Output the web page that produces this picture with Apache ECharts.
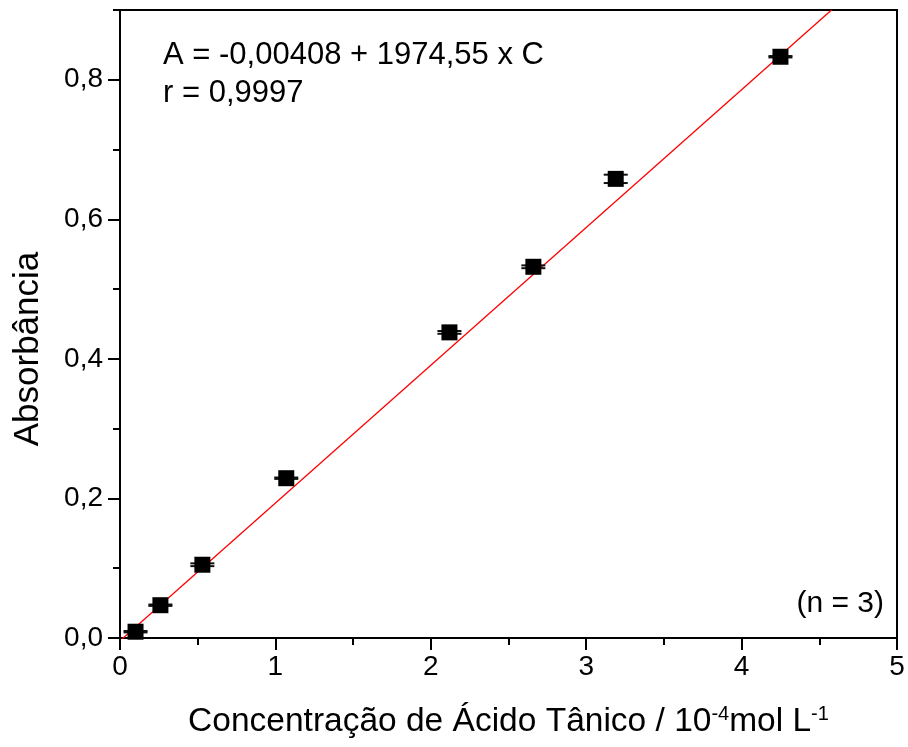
<!DOCTYPE html>
<html>
<head>
<meta charset="utf-8">
<script src="https://cdn.jsdelivr.net/npm/echarts@6/dist/echarts.min.js"></script>
<style>
  html, body { margin: 0; padding: 0; background: #fff; }
  #chart { width: 908px; height: 747px; }
</style>
</head>
<body>
<div id="chart"></div>
<script>
// Tannic acid calibration: concentration (10^-4 mol/L) vs absorbance
const concentration = [0.10, 0.26, 0.53, 1.07, 2.12, 2.66, 3.19, 4.25];
const absorbance = [0.009, 0.047, 0.105, 0.229, 0.438, 0.532, 0.658, 0.833];
const absorbanceErr = [0.001, 0.001, 0.002, 0.001, 0.002, 0.002, 0.006, 0.001];

// Linear fit: A = -0.00408 + 1974.55 * C (C in mol/L)
const fitIntercept = -0.00408;
const fitSlope = 1974.55e-4; // per 10^-4 mol/L

const xTicks = [0, 1, 2, 3, 4, 5];
const yTicks = [0, 0.2, 0.4, 0.6, 0.8];
const xMax = 5, yMax = 0.9;

// fit drawn across the axis range, clipped by the plot area
const fitLine = [
  [0, fitIntercept],
  [(yMax - fitIntercept) / fitSlope, yMax]
];

const points = concentration.map((c, i) => [c, absorbance[i]]);
const errData = concentration.map((c, i) => [c, absorbance[i], absorbanceErr[i]]);

const font = 'Liberation Sans, Arial, sans-serif';
const black = { color: '#000', width: 2 };

const chart = echarts.init(document.getElementById('chart'));

// main axes carry labels and major ticks; twin axes add the shorter minor ticks
chart.setOption({
  animation: false,
  grid: {
    left: 120, right: 11, top: 10, bottom: 109,
    outerBoundsMode: 'none', containLabel: false,
    show: true, borderColor: '#000', borderWidth: 2, backgroundColor: 'transparent'
  },
  xAxis: [
    {
      type: 'value', min: 0, max: xMax, interval: 1, position: 'bottom',
      splitLine: { show: false },
      axisLine: { onZero: false, lineStyle: black },
      axisTick: { show: true, length: 12, inside: false, lineStyle: black },
      axisLabel: {
        color: '#000', fontFamily: font, fontSize: 28, margin: 15,
        customValues: xTicks, formatter: v => String(v)
      },
      name: 'Concentração de Ácido Tânico / 10{sup|-4}mol L{sup|-1}',
      nameLocation: 'middle', nameGap: 66,
      nameTextStyle: {
        color: '#000', fontFamily: font, fontSize: 33.5,
        rich: { sup: { fontFamily: font, fontSize: 20, verticalAlign: 'top', padding: [0, 0, 16, 0] } }
      }
    },
    {
      type: 'value', min: 0, max: xMax, interval: 0.5, position: 'bottom', offset: 0,
      splitLine: { show: false },
      axisLine: { show: false },
      axisTick: { show: true, length: 7, inside: false, lineStyle: black },
      axisLabel: { show: false }
    }
  ],
  yAxis: [
    {
      type: 'value', min: 0, max: yMax, interval: 0.2, position: 'left',
      splitLine: { show: false },
      axisLine: { onZero: false, lineStyle: black },
      axisTick: { show: true, length: 12, customValues: yTicks, lineStyle: black },
      axisLabel: {
        color: '#000', fontFamily: font, fontSize: 28, margin: 17,
        customValues: yTicks, formatter: v => v.toFixed(1).replace('.', ',')
      }
    },
    {
      type: 'value', min: 0, max: yMax, interval: 0.1, position: 'left', offset: 0,
      splitLine: { show: false },
      axisLine: { show: false },
      axisTick: { show: true, length: 7, lineStyle: black },
      axisLabel: { show: false }
    }
  ],
  graphic: [
    { type: 'text', x: 28, y: 349, rotation: Math.PI / 2,
      style: { text: 'Absorbância', fill: '#000', font: '35px ' + font, align: 'center', verticalAlign: 'middle' } },
    { type: 'text', left: 163, top: 40,
      style: { text: 'A = -0,00408 + 1974,55 x C', fill: '#000', font: '31px ' + font } },
    { type: 'text', left: 163, top: 78,
      style: { text: 'r = 0,9997', fill: '#000', font: '31px ' + font } },
    { type: 'text', right: 24, top: 589,
      style: { text: '(n = 3)', fill: '#000', font: '30px ' + font } }
  ],
  series: [
    {
      type: 'line', data: fitLine, showSymbol: false, z: 3, clip: true,
      lineStyle: { color: '#ff0000', width: 1.3 }
    },
    {
      type: 'custom', data: errData, z: 4,
      renderItem: (params, api) => {
        const x = api.value(0), y = api.value(1), e = api.value(2);
        const top = api.coord([x, y + e]);
        const bot = api.coord([x, y - e]);
        const half = 12;
        const st = { stroke: '#111', lineWidth: 2 };
        return {
          type: 'group',
          children: [
            { type: 'line', shape: { x1: top[0], y1: top[1], x2: bot[0], y2: bot[1] }, style: st },
            { type: 'line', shape: { x1: top[0] - half, y1: top[1], x2: top[0] + half, y2: top[1] }, style: st },
            { type: 'line', shape: { x1: bot[0] - half, y1: bot[1], x2: bot[0] + half, y2: bot[1] }, style: st }
          ]
        };
      }
    },
    {
      type: 'scatter', data: points, symbol: 'rect', symbolSize: 16, z: 5,
      itemStyle: { color: '#000', opacity: 1 }
    }
  ]
});
</script>
</body>
</html>
